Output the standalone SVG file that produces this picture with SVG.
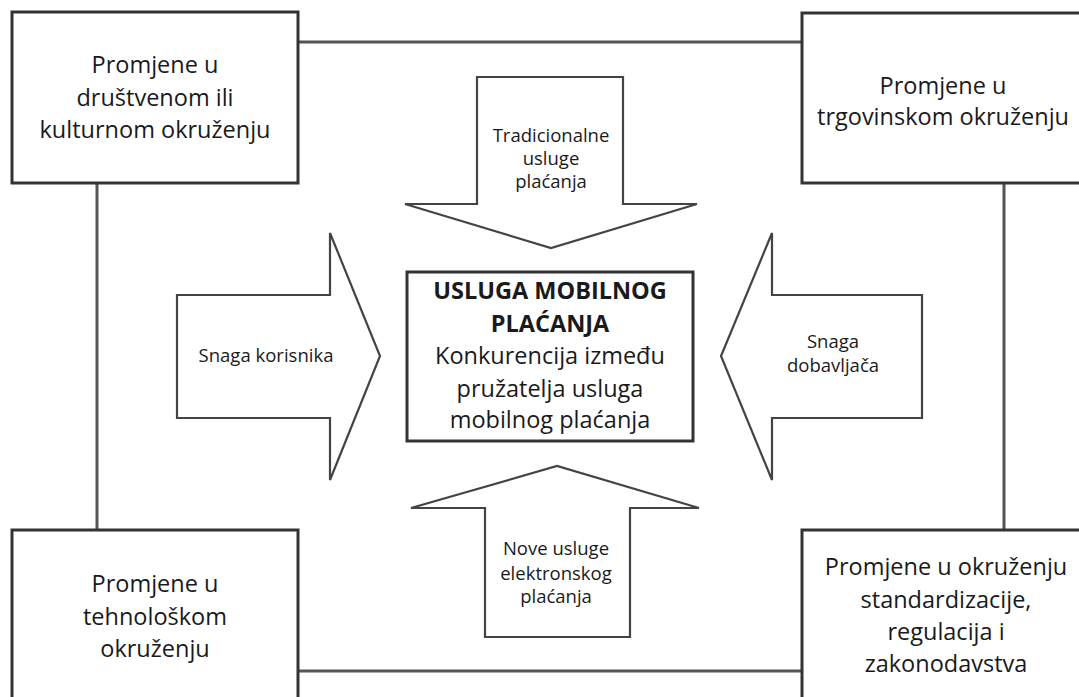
<svg xmlns="http://www.w3.org/2000/svg" width="1079" height="697" viewBox="0 0 1079 697">
<style>
  .bg { fill: #ffffff; }
  .box { fill: #ffffff; stroke: #333333; stroke-width: 3; }
  .link { fill: none; stroke: #555555; stroke-width: 3; }
  .arrow { fill: #ffffff; stroke: #444444; stroke-width: 2.2; stroke-linejoin: miter; }
  .big { font-family: "Open Sans", "Liberation Sans", sans-serif; font-size: 23.5px; fill: #1a1a1a; text-anchor: middle; }
  .bold { font-weight: bold; }
  .small { font-family: "Open Sans", "Liberation Sans", sans-serif; font-size: 18.5px; fill: #1a1a1a; text-anchor: middle; }
</style>
<rect class="bg" x="0" y="0" width="1079" height="697"/>

<g id="connectors">
  <line class="link" x1="298" y1="42" x2="802" y2="42"/>
  <line class="link" x1="97" y1="183" x2="97" y2="530"/>
  <line class="link" x1="1004" y1="183" x2="1004" y2="530"/>
  <line class="link" x1="298" y1="671" x2="802" y2="671"/>
</g>

<g id="node-drustveno">
  <rect class="box" x="12" y="12" width="286" height="171"/>
  <text class="big" x="155" y="73">Promjene u</text>
  <text class="big" x="155" y="106">društvenom ili</text>
  <text class="big" x="155" y="138">kulturnom okruženju</text>
</g>

<g id="node-trgovinsko">
  <rect class="box" x="802" y="13" width="290" height="170"/>
  <text class="big" x="943" y="94">Promjene u</text>
  <text class="big" x="943" y="125">trgovinskom okruženju</text>
</g>

<g id="node-tehnolosko">
  <rect class="box" x="12" y="530" width="286" height="180"/>
  <text class="big" x="155" y="592">Promjene u</text>
  <text class="big" x="155" y="625">tehnološkom</text>
  <text class="big" x="155" y="657">okruženju</text>
</g>

<g id="node-regulacija">
  <rect class="box" x="802" y="530" width="290" height="180"/>
  <text class="big" x="946" y="575">Promjene u okruženju</text>
  <text class="big" x="946" y="608">standardizacije,</text>
  <text class="big" x="946" y="640">regulacija i</text>
  <text class="big" x="946" y="672">zakonodavstva</text>
</g>

<g id="node-center">
  <rect class="box" x="407" y="272" width="286" height="169"/>
  <text class="big bold" x="550" y="299">USLUGA MOBILNOG</text>
  <text class="big bold" x="550" y="332">PLAĆANJA</text>
  <text class="big" x="550" y="364">Konkurencija između</text>
  <text class="big" x="550" y="397">pružatelja usluga</text>
  <text class="big" x="550" y="428">mobilnog plaćanja</text>
</g>

<g id="arrow-top">
  <polygon class="arrow" points="477,77 623,77 623,204 697,204 551,248 405,204 477,204"/>
  <text class="small" x="551" y="142">Tradicionalne</text>
  <text class="small" x="551" y="165">usluge</text>
  <text class="small" x="551" y="188">plaćanja</text>
</g>

<g id="arrow-left">
  <polygon class="arrow" points="177,295 330,295 330,233 380,356 330,480 330,418 177,418"/>
  <text class="small" x="266" y="362">Snaga korisnika</text>
</g>

<g id="arrow-right">
  <polygon class="arrow" points="922,295 772,295 772,233 721,356 772,480 772,418 922,418"/>
  <text class="small" x="833" y="348">Snaga</text>
  <text class="small" x="833" y="372">dobavljača</text>
</g>

<g id="arrow-bottom">
  <polygon class="arrow" points="485,637 630,637 630,508 699,508 557,466 411,508 485,508"/>
  <text class="small" x="556" y="555">Nove usluge</text>
  <text class="small" x="556" y="580">elektronskog</text>
  <text class="small" x="556" y="603">plaćanja</text>
</g>
</svg>
